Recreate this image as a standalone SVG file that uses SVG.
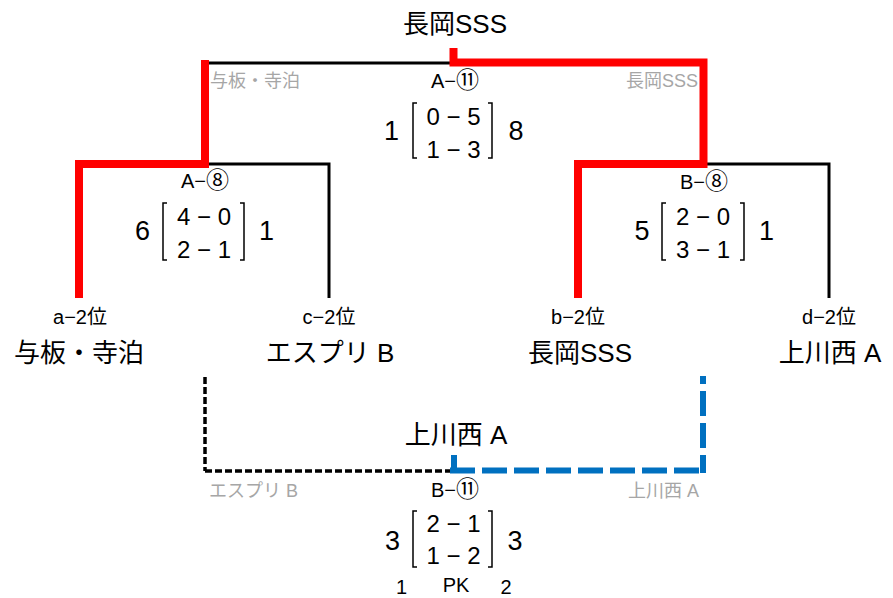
<svg xmlns="http://www.w3.org/2000/svg" width="893" height="598" viewBox="0 0 893 598">
<style>
text{font-family:"Liberation Sans","Noto Sans CJK JP",sans-serif;fill:#000;text-anchor:middle}
.team{font-size:26px}
.seed{font-size:20px}
.mlabel{font-size:20px}
.circ{font-size:23px}
.gray{font-size:18px;fill:#a6a6a6}
.outer{font-size:27px}
.inner{font-size:24px}
.pk{font-size:20px}
.brk{fill:none;stroke:#000;stroke-width:1.5}
.red{fill:none;stroke:#ff0000;stroke-width:8;stroke-linejoin:miter;stroke-linecap:butt}
.blk{fill:none;stroke:#000;stroke-width:3}
.dblk{fill:none;stroke:#000;stroke-width:3.5;stroke-dasharray:7 3}
.dblu{fill:none;stroke:#0070c0;stroke-width:6;stroke-dasharray:25 7}
</style>
<rect width="893" height="598" fill="#fff"/>
<g id="connectors">
<path class="blk" d="M205 63 H453"/>
<path class="blk" d="M205 164 H329 V298"/>
<path class="blk" d="M703 164 H829 V298"/>
<path class="red" d="M205 60 V164 H79 V298"/>
<path class="red" d="M453.5 48 V62.5 H703.5 V164 H578 V298"/>
<path class="dblk" d="M205 377 V471"/>
<path class="dblk" d="M205 471 H452"/>
<path class="dblu" d="M450 470.5 H706"/>
<path class="dblu" d="M703 376 V473" stroke-dashoffset="17"/>
<path fill="none" stroke="#0070c0" stroke-width="6" d="M454 455 V473"/>
</g>
<g id="champion"><text class="team" x="455" y="33">長岡SSS</text></g>
<g id="final-winner"><text class="team" x="456" y="444">上川西 A</text></g>
<g id="team-a"><text class="seed" x="80" y="324">a−2位</text><text class="team" x="79" y="362">与板・寺泊</text></g>
<g id="team-c"><text class="seed" x="329" y="324">c−2位</text><text class="team" x="330" y="362">エスプリ B</text></g>
<g id="team-b"><text class="seed" x="578" y="324">b−2位</text><text class="team" x="580" y="362">長岡SSS</text></g>
<g id="team-d"><text class="seed" x="829" y="324">d−2位</text><text class="team" x="830" y="362">上川西 A</text></g>
<g id="match-a11">
<text class="gray" x="210" y="87" style="text-anchor:start">与板・寺泊</text>
<text class="gray" x="698" y="87" style="text-anchor:end">長岡SSS</text>
<text class="mlabel" x="455" y="88">A−<tspan class="circ">⑪</tspan></text>
<text class="outer" x="391.5" y="140">1</text>
<path class="brk" d="M417 103 H413 V158 H417"/>
<text class="inner" x="453.5" y="125">0 − 5</text>
<text class="inner" x="453.5" y="158">1 − 3</text>
<path class="brk" d="M488 103 H492 V158 H488"/>
<text class="outer" x="516" y="140">8</text>
</g>
<g id="match-a8">
<text class="mlabel" x="205" y="188">A−<tspan class="circ">⑧</tspan></text>
<text class="outer" x="142.5" y="240">6</text>
<path class="brk" d="M167 203 H163 V260 H167"/>
<text class="inner" x="204" y="225">4 − 0</text>
<text class="inner" x="204" y="258">2 − 1</text>
<path class="brk" d="M240 203 H244 V260 H240"/>
<text class="outer" x="266.5" y="240">1</text>
</g>
<g id="match-b8">
<text class="mlabel" x="704" y="189">B−<tspan class="circ">⑧</tspan></text>
<text class="outer" x="642" y="240">5</text>
<path class="brk" d="M666 203 H662 V260 H666"/>
<text class="inner" x="703" y="225">2 − 0</text>
<text class="inner" x="703" y="258">3 − 1</text>
<path class="brk" d="M740 203 H744 V260 H740"/>
<text class="outer" x="766.5" y="240">1</text>
</g>
<g id="match-b11">
<text class="gray" x="209" y="497" style="text-anchor:start">エスプリ B</text>
<text class="gray" x="699" y="497" style="text-anchor:end">上川西 A</text>
<text class="mlabel" x="455" y="497">B−<tspan class="circ">⑪</tspan></text>
<text class="outer" x="392.5" y="550">3</text>
<path class="brk" d="M417 511 H413 V567 H417"/>
<text class="inner" x="453.5" y="532">2 − 1</text>
<text class="inner" x="453.5" y="564">1 − 2</text>
<path class="brk" d="M488 511 H492 V567 H488"/>
<text class="outer" x="515" y="550">3</text>
<text class="pk" x="401.5" y="594">1</text>
<text class="pk" x="456" y="592">PK</text>
<text class="pk" x="506" y="594">2</text>
</g>
</svg>
